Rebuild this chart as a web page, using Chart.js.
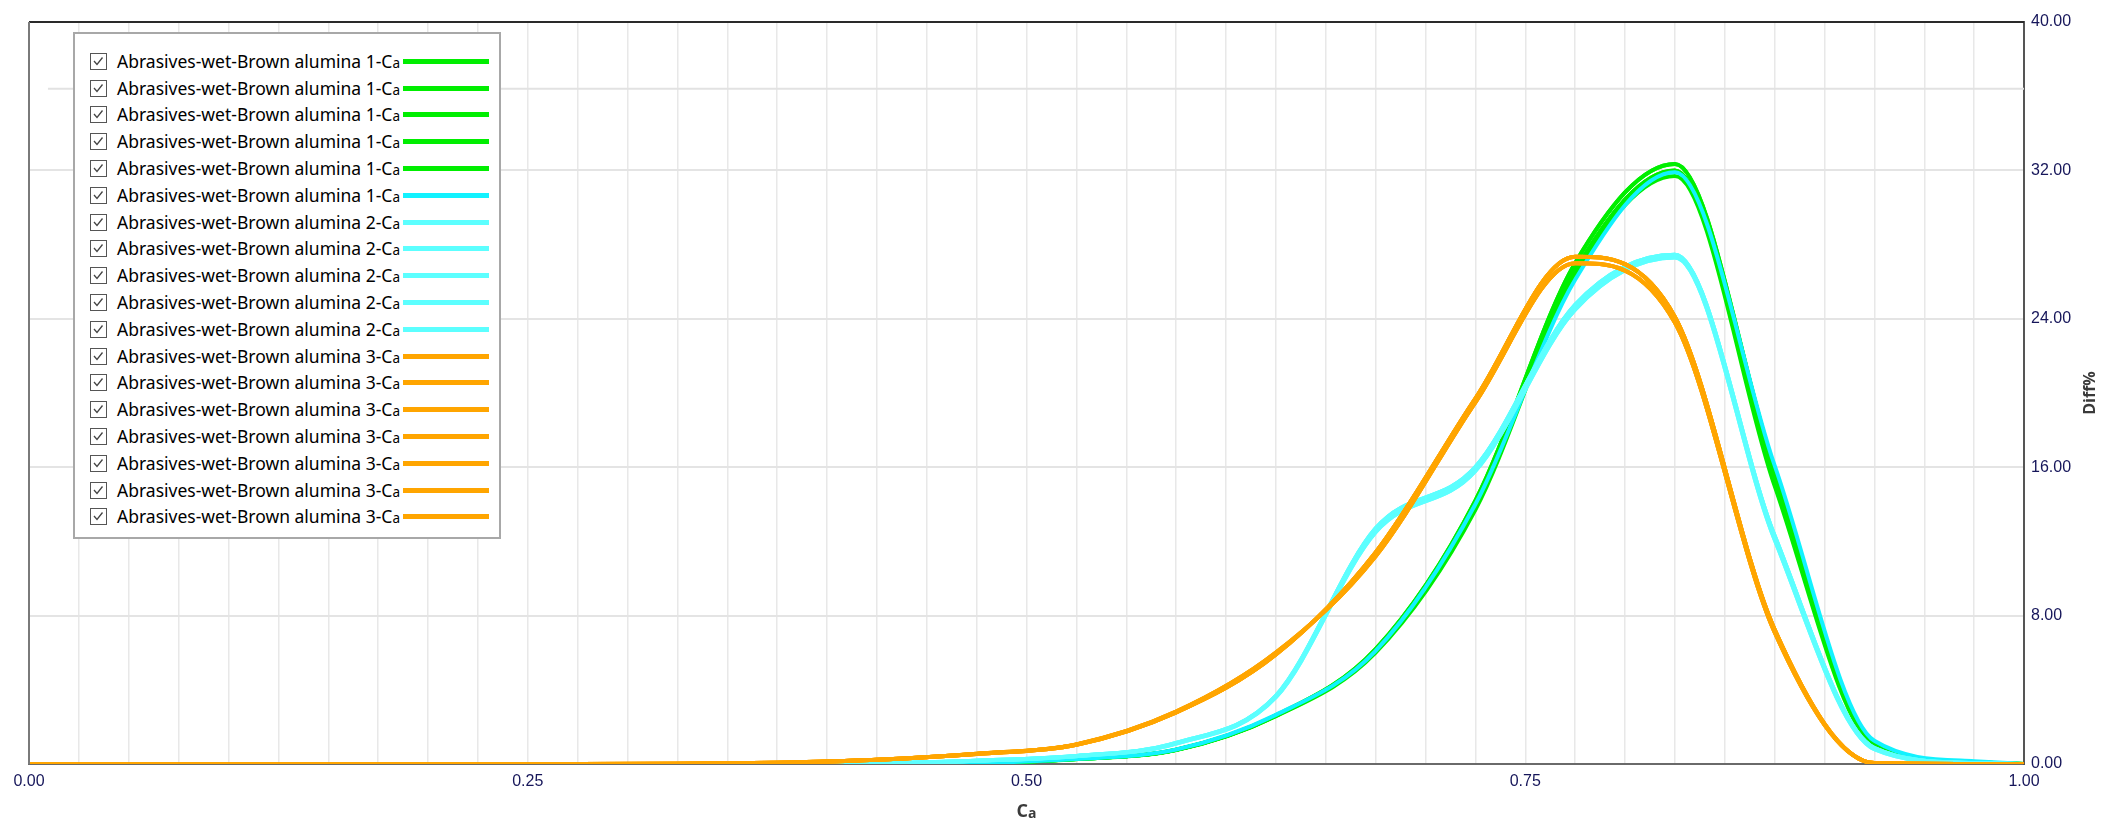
<!DOCTYPE html>
<html>
<head>
<meta charset="utf-8">
<title>Diff% vs Ca</title>
<script src="https://cdn.jsdelivr.net/npm/chart.js@4.4.1/dist/chart.umd.min.js"></script>
<style>
    html, body { margin: 0; padding: 0; background: #fff; }
    #wrap { position: relative; width: 2107px; height: 826px; }
    #legend {
        position: absolute; left: 73px; top: 32px; width: 428px; height: 507px;
        box-sizing: border-box; border: 2px solid #a8a8a8; background: #fff;
        font-family: "Noto Sans", "Open Sans", sans-serif; font-size: 17.5px; color: #000;
    }
    .lg-row { position: absolute; left: 0; width: 100%; height: 22px; }
    .lg-box { position: absolute; left: 15px; top: 2px; width: 17px; height: 17px; box-sizing: border-box; border: 1.5px solid #555; }
    .lg-text { position: absolute; left: 42px; top: -1px; white-space: nowrap; line-height: 22px; }
    .lg-text small { font-size: 13.5px; }
    .lg-line { position: absolute; left: 328px; top: 8px; width: 86px; height: 5px; }
</style>
</head>
<body>
<div id="wrap">
    <canvas id="diffChart"></canvas>
    <div id="legend"></div>
</div>
<script>
// Ca knots (x) shared by every curve
const caValues = [0, 0.025, 0.075, 0.125, 0.175, 0.225, 0.275, 0.325, 0.375, 0.425, 0.475,
                  0.525, 0.575, 0.625, 0.675, 0.725, 0.775, 0.825, 0.875, 0.925, 0.975, 1];

// Diff%
const green1A   = [0,0,0,0,0,0,0,0,0,0,0.05,0.27,0.77,2.62,6.2,14.2,27.0,32.35,15.9,1.1,0.1,0];
const green1B   = [0,0,0,0,0,0,0,0,0,0,0.05,0.27,0.76,2.6,6.1,13.9,26.6,32.0,15.4,1.05,0.1,0];
const green1C   = [0,0,0,0,0,0,0,0,0,0,0.05,0.26,0.75,2.58,6.0,13.7,26.3,31.7,15.0,1.0,0.08,0];
const cyan1     = [0,0,0,0,0,0,0,0,0,0,0.05,0.27,0.78,2.65,6.1,14.0,26.1,31.9,16.1,1.25,0.15,0];
const lightCyan2A = [0,0,0,0,0,0,0,0,0,0.03,0.18,0.43,1.13,3.67,12.7,16.0,24.75,27.45,12.3,0.86,0.05,0];
const lightCyan2B = [0,0,0,0,0,0,0,0,0,0.03,0.17,0.42,1.1,3.6,12.5,15.8,24.5,27.3,12.1,0.8,0.04,0];
const orange3A  = [0,0,0,0,0,0,0,0.01,0.07,0.23,0.54,1.04,2.78,5.9,11.4,19.7,27.35,24.1,7.25,0.05,0,0];
const orange3B  = [0,0,0,0,0,0,0,0.01,0.07,0.23,0.55,1.06,2.82,6.0,11.2,19.5,27.0,23.8,7.1,0.05,0,0];

// faint reference line near the top of the plot
const refLineX = [0.0095, 1];
const refLineY = [36.4, 36.4];

// axis ticks
const xTickLabels = [0, 0.25, 0.5, 0.75, 1];
const yTicks = [0, 8, 16, 24, 32, 40];

// legend rows: label, which curve, group
const seriesLabels = [
    '1','1','1','1','1','1',
    '2','2','2','2','2',
    '3','3','3','3','3','3','3'
];
const seriesData = [
    green1A, green1B, green1C, green1B, green1A, cyan1,
    lightCyan2A, lightCyan2B, lightCyan2A, lightCyan2B, lightCyan2A,
    orange3A, orange3B, orange3A, orange3B, orange3A, orange3B, orange3A
];
const seriesGroup = ['g','g','g','g','g','c','l','l','l','l','l','o','o','o','o','o','o','o'];

const groupStyle = {
    g: { color: '#00ee00', order: 3 },
    c: { color: '#12f2ff', order: 2 },
    l: { color: '#5cffff', order: 1 },
    o: { color: '#ffa500', order: 0 }
};

const toPoints = (ys) => caValues.map((x, i) => ({ x: x, y: ys[i] }));

const datasets = seriesData.map((ys, i) => {
    const st = groupStyle[seriesGroup[i]];
    return {
        label: 'Abrasives-wet-Brown alumina ' + seriesLabels[i] + '-Ca',
        data: toPoints(ys),
        borderColor: st.color,
        backgroundColor: st.color,
        borderWidth: 4,
        pointRadius: 0,
        cubicInterpolationMode: 'monotone',
        order: st.order
    };
});

datasets.push({
    label: 'ref',
    data: refLineX.map((x, i) => ({ x: x, y: refLineY[i] })),
    borderColor: '#e2e2e2',
    borderWidth: 2,
    pointRadius: 0,
    order: 10
});

// frame + axis titles (Ca with subscript, Diff% bottom-to-top)
const framePlugin = {
    id: 'frameAndTitles',
    afterDraw(chart) {
        const { ctx, chartArea } = chart;
        ctx.save();
        ctx.lineWidth = 2;
        ctx.strokeStyle = '#2a2a2a';
        ctx.beginPath();
        ctx.moveTo(chartArea.left, chartArea.top);
        ctx.lineTo(chartArea.right, chartArea.top);
        ctx.stroke();
        ctx.strokeStyle = '#7a7a7a';
        ctx.beginPath();
        ctx.moveTo(chartArea.left, chartArea.top);
        ctx.lineTo(chartArea.left, chartArea.bottom);
        ctx.stroke();

        // x title
        const cx = (chartArea.left + chartArea.right) / 2;
        ctx.fillStyle = '#3a3a3a';
        ctx.textBaseline = 'alphabetic';
        ctx.font = 'bold 18px "Open Sans", sans-serif';
        const wC = ctx.measureText('C').width;
        ctx.font = 'bold 14px "Open Sans", sans-serif';
        const wA = ctx.measureText('a').width;
        const startX = cx - (wC + wA) / 2;
        ctx.font = 'bold 18px "Open Sans", sans-serif';
        ctx.textAlign = 'left';
        ctx.fillText('C', startX, 817);
        ctx.font = 'bold 14px "Open Sans", sans-serif';
        ctx.fillText('a', startX + wC, 818);

        // y title
        ctx.translate(chart.width - 17, (chartArea.top + chartArea.bottom) / 2);
        ctx.rotate(-Math.PI / 2);
        ctx.textAlign = 'center';
        ctx.textBaseline = 'middle';
        ctx.font = 'bold 16px "Open Sans", sans-serif';
        ctx.fillText('Diff%', 0, 0);
        ctx.restore();
    }
};

const tickColor = '#16165a';
const tickFont = { family: "'Liberation Sans', Arial, sans-serif", size: 16 };

const ctx = document.getElementById('diffChart');
new Chart(ctx, {
    type: 'line',
    data: { datasets: datasets },
    options: {
        responsive: true,
        maintainAspectRatio: false,
        animation: false,
        layout: { padding: { left: 29, top: 22, right: 0, bottom: 0 } },
        plugins: {
            legend: { display: false },
            tooltip: { enabled: false }
        },
        scales: {
            x: {
                type: 'linear',
                min: 0,
                max: 1,
                grid: { color: '#e8e8e8', lineWidth: 1.5, drawTicks: false },
                border: { color: '#6a6a6a', width: 2 },
                ticks: {
                    stepSize: 0.025,
                    autoSkip: false,
                    maxRotation: 0,
                    padding: 8,
                    color: tickColor,
                    font: tickFont,
                    callback: (v) => xTickLabels.some(t => Math.abs(t - v) < 1e-6) ? v.toFixed(2) : ''
                },
                afterFit: (scale) => { scale.height = 62; }
            },
            y: {
                position: 'right',
                min: 0,
                max: 40,
                grid: { color: '#e4e4e4', lineWidth: 2, drawTicks: false },
                border: { color: '#555555', width: 2 },
                afterBuildTicks: (scale) => { scale.ticks = yTicks.map(v => ({ value: v })); },
                ticks: {
                    padding: 7,
                    color: tickColor,
                    font: tickFont,
                    callback: (v) => Number(v).toFixed(2)
                },
                afterFit: (scale) => { scale.width = 83; }
            }
        }
    },
    plugins: [framePlugin]
});

// Legend with check boxes, line sample on the right
const legendBox = document.getElementById('legend');
let html = '';
seriesLabels.forEach((lab, i) => {
    const top = 27.8 + i * 26.8 - 11;
    const color = groupStyle[seriesGroup[i]].color;
    html += `
        <div class="lg-row" style="top:${top}px">
            <div class="lg-box"><svg width="14" height="14" style="position:absolute;left:0;top:0">
                <polyline points="3,7 6,10.5 11.5,3.5" fill="none" stroke="#444" stroke-width="1.3"/></svg></div>
            <div class="lg-text">Abrasives-wet-Brown alumina ${lab}-C<small>a</small></div>
            <div class="lg-line" style="background:${color}"></div>
        </div>`;
});
legendBox.innerHTML = html;
</script>
</body>
</html>
